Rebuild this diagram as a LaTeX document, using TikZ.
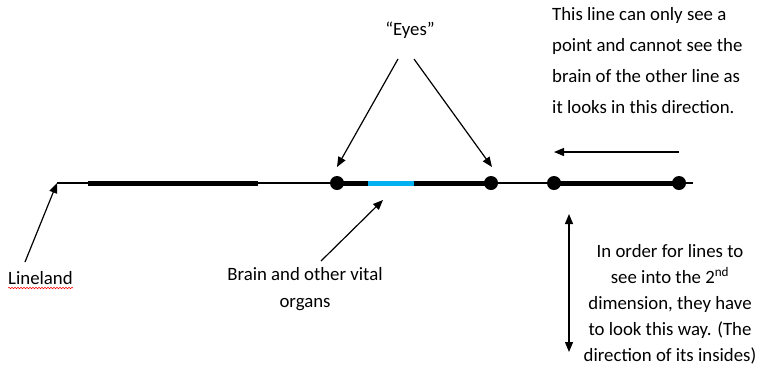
\documentclass[tikz,border=0pt]{standalone}
\usepackage{fontspec}
\setmainfont{Carlito}
\usetikzlibrary{arrows.meta,decorations.pathmorphing}
\definecolor{brainblue}{HTML}{00B0F0}
\tikzset{
  eye/.style={circle,fill=black,inner sep=0pt,minimum size=14pt},
  pointer/.style={-{Triangle[length=10pt,width=8pt]},line width=1.2pt},
  body/.style={line width=5pt},
  txt/.style={inner sep=0pt,font=\fontsize{18.8}{31}\selectfont}
}
\begin{document}
\begin{tikzpicture}[x=1pt,y=-1pt]
\useasboundingbox (0,0) rectangle (760,365);

%the line of lineland
\coordinate (start) at (57,183);
\coordinate (end) at (693,183);
\draw[line width=1.3pt] (start) -- (end);

%first line and its points
\draw[body] (88,183) -- (258,183);
\draw[body] (337,183) -- (491,183);
\draw[body,color=brainblue] (368,183) -- (414,183);
\node[eye] (eyeA) at (337,183) {};
\node[eye] (eyeB) at (491,183) {};

%second line
\draw[body] (554,183) -- (679,183);
\node[eye] (eyeC) at (554,183) {};
\node[eye] (eyeD) at (679,183) {};

%labels (base anchor sits on the last line)
\node[txt,anchor=base west] (lineland) at (8,284) {Lineland};
\draw[red,line width=0.5pt,decorate,decoration={snake,amplitude=0.8pt,segment length=3pt}] (8,288) -- (73,288);
\node[txt,anchor=base] (eyes) at (410,35) {“Eyes”};
\node[txt,anchor=base,align=center,font=\fontsize{18.8}{27}\selectfont] (brain) at (305,307) {Brain and other vital\\organs};
\node[txt,anchor=base west,align=left] (onlypoint) at (552,113) {This line can only see a\\point and cannot see the\\brain of the other line as\\it looks in this direction.};
\node[txt,anchor=base,align=center,font=\fontsize{18.8}{26}\selectfont] (second) at (670,361) {In order for lines to\\see into the 2\textsuperscript{nd}\\dimension, they have\\to look this way. (The\\direction of its insides)};

%pointers
\coordinate (landtail) at (25,262);
\draw[pointer] (landtail) -- (start);
\coordinate (braintail) at (321,261);
\coordinate (brainhead) at (383,200);
\draw[pointer] (braintail) -- (brainhead);
\coordinate (eyetailA) at (398,59);
\coordinate (eyeheadA) at (337,167);
\coordinate (eyetailB) at (414,59);
\coordinate (eyeheadB) at (492,167);
\draw[pointer] (eyetailA) -- (eyeheadA);
\draw[pointer] (eyetailB) -- (eyeheadB);

%directions of looking
\coordinate (looktail) at (679,152);
\coordinate (lookhead) at (554,152);
\draw[pointer] (looktail) -- (lookhead);
\coordinate (upend) at (569,214);
\coordinate (downend) at (569,352);
\draw[{Triangle[length=10pt,width=8pt]}-{Triangle[length=10pt,width=8pt]},line width=1.2pt] (upend) -- (downend);

\end{tikzpicture}
\end{document}
